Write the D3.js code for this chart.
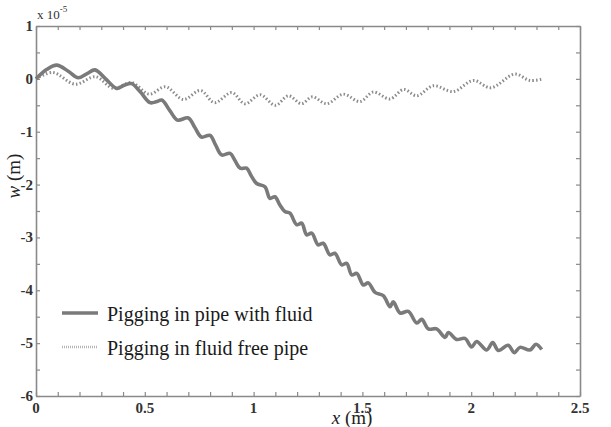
<!DOCTYPE html>
<html>
<head>
<meta charset="utf-8">
<script src="https://cdn.jsdelivr.net/npm/d3@7"></script>
<style>
  body { margin: 0; background: #fff; }
  svg text { font-family: "Liberation Serif", "Times New Roman", serif; }
</style>
</head>
<body>
<svg id="chart" width="611" height="427"></svg>
<script>
"use strict";

// data, units of 1e-5 m
const seriesNames = ["Pigging in pipe with fluid", "Pigging in fluid free pipe"];
const xTicks = [0, 0.5, 1, 1.5, 2, 2.5];
const yTicks = [1, 0, -1, -2, -3, -4, -5, -6];

const withFluid = [
    [0, 0], [0.05, 0.18], [0.095, 0.26], [0.15, 0.14], [0.194, 0.02], [0.235, 0.1], [0.271, 0.17],
    [0.32, 0.0], [0.371, -0.18], [0.405, -0.12], [0.44, -0.09], [0.48, -0.25], [0.524, -0.45],
    [0.555, -0.43], [0.578, -0.40], [0.615, -0.6], [0.65, -0.78], [0.70, -0.74], [0.73, -0.92],
    [0.76, -1.10], [0.80, -1.07], [0.825, -1.25], [0.853, -1.44], [0.892, -1.41], [0.915, -1.55],
    [0.938, -1.69], [0.968, -1.69], [0.99, -1.84], [1.014, -1.98], [1.052, -2.04], [1.075, -2.26],
    [1.098, -2.23], [1.12, -2.38], [1.144, -2.51], [1.167, -2.54], [1.198, -2.76], [1.221, -2.73],
    [1.244, -2.95], [1.267, -2.92], [1.297, -3.14], [1.320, -3.11], [1.351, -3.33], [1.374, -3.30],
    [1.405, -3.52], [1.428, -3.49], [1.451, -3.71], [1.474, -3.68], [1.504, -3.90], [1.527, -3.86],
    [1.558, -4.04], [1.596, -4.10], [1.627, -4.31], [1.642, -4.22], [1.673, -4.43], [1.711, -4.40],
    [1.750, -4.62], [1.773, -4.55], [1.803, -4.73], [1.841, -4.73], [1.880, -4.89], [1.895, -4.80],
    [1.933, -4.93], [1.971, -4.91], [2.002, -5.07], [2.025, -4.97], [2.071, -5.13], [2.099, -4.99],
    [2.125, -5.14], [2.170, -5.04], [2.198, -5.18], [2.224, -5.08], [2.270, -5.13], [2.298, -5.02],
    [2.324, -5.12]
];

const fluidFree = [
    [0, 0], [0.077, 0.12], [0.18, -0.1], [0.274, 0.04], [0.355, -0.18], [0.44, -0.07], [0.52, -0.29],
    [0.595, -0.15], [0.677, -0.39], [0.756, -0.22], [0.82, -0.45], [0.90, -0.26], [0.96, -0.47],
    [1.03, -0.30], [1.10, -0.50], [1.16, -0.32], [1.22, -0.47], [1.27, -0.34], [1.336, -0.47],
    [1.412, -0.29], [1.489, -0.43], [1.55, -0.25], [1.627, -0.38], [1.69, -0.20], [1.75, -0.32],
    [1.826, -0.13], [1.918, -0.24], [2.01, -0.03], [2.09, -0.17], [2.20, 0.09], [2.27, -0.03],
    [2.33, 0.0]
];

const svg = d3.select("#chart");
const plotLeft = 36, plotRight = 580, plotTop = 26, plotBottom = 396;
const axisColor = "#8a8a8a";

const scaleX = d3.scaleLinear().domain([0, 2.5]).range([plotLeft, plotRight]);
const scaleY = d3.scaleLinear().domain([-6, 1]).range([plotBottom, plotTop]);

// minor ticks, drawn inward on all four sides
const xMinor = d3.range(0, 26).map(i => i / 10);
const yMinor = d3.range(0, 15).map(i => -6 + i / 2);
const tick = 4;

function frameAxis(axis, transform) {
    svg.append("g")
    .attr("transform", transform)
    .call(axis)
    .call(g => g.select(".domain").attr("stroke", axisColor).attr("stroke-width", 1.6))
    .call(g => g.selectAll(".tick line").attr("stroke", axisColor).attr("stroke-width", 1.2));
}

frameAxis(d3.axisBottom(scaleX).tickValues(xMinor).tickSize(-tick).tickSizeOuter(0).tickFormat(""),
    `translate(0,${plotBottom})`);
frameAxis(d3.axisTop(scaleX).tickValues(xMinor).tickSize(-tick).tickSizeOuter(0).tickFormat(""),
    `translate(0,${plotTop})`);
frameAxis(d3.axisLeft(scaleY).tickValues(yMinor).tickSize(-tick).tickSizeOuter(0).tickFormat(""),
    `translate(${plotLeft},0)`);
frameAxis(d3.axisRight(scaleY).tickValues(yMinor).tickSize(-tick).tickSizeOuter(0).tickFormat(""),
    `translate(${plotRight},0)`);

// tick labels
svg.append("g")
.selectAll("text")
.data(xTicks)
.join("text")
.attr("x", d => scaleX(d))
.attr("y", plotBottom + 17)
.attr("text-anchor", "middle")
.attr("font-size", 15)
.attr("font-weight", "bold")
.attr("fill", "#333")
.text(d => d);

svg.append("g")
.selectAll("text")
.data(yTicks)
.join("text")
.attr("x", plotLeft - 3)
.attr("y", d => scaleY(d) + 5)
.attr("text-anchor", "end")
.attr("font-size", 15)
.attr("font-weight", "bold")
.attr("fill", "#333")
.text(d => d);

// exponent
const expo = svg.append("text")
.attr("x", plotLeft + 1)
.attr("y", 19)
.attr("font-size", 13)
.attr("fill", "#333");
expo.append("tspan").text("x 10");
expo.append("tspan").attr("dy", -7).attr("font-size", 9).text("-5");

// axis titles
const yTitle = svg.append("text")
.attr("transform", "translate(20,176) rotate(-90)")
.attr("text-anchor", "middle")
.attr("font-size", 19)
.attr("fill", "#222");
yTitle.append("tspan").attr("font-style", "italic").text("w");
yTitle.append("tspan").text(" (m)");

const xTitle = svg.append("text")
.attr("x", 352)
.attr("y", 424)
.attr("text-anchor", "middle")
.attr("font-size", 19)
.attr("fill", "#222");
xTitle.append("tspan").attr("font-style", "italic").text("x");
xTitle.append("tspan").text(" (m)");

// curves
const line = d3.line()
.x(d => scaleX(d[0]))
.y(d => scaleY(d[1]))
.curve(d3.curveCatmullRom.alpha(0.5));

svg.append("path")
.datum(fluidFree)
.attr("fill", "none")
.attr("stroke", "#8c8c8c")
.attr("stroke-width", 3)
.attr("stroke-dasharray", "1.5,2.2")
.attr("d", line);

svg.append("path")
.datum(withFluid)
.attr("fill", "none")
.attr("stroke", "#7a7a7a")
.attr("stroke-width", 3.6)
.attr("stroke-linejoin", "round")
.attr("d", line);

// legend
const legend = svg.append("g");
const legendStyles = [
    { stroke: "#7a7a7a", width: 3.6, dash: null, y: 313 },
    { stroke: "#b5b5b5", width: 2.5, dash: "1,1", y: 347 }
];
seriesNames.forEach((name, i) => {
    const s = legendStyles[i];
    legend.append("line")
    .attr("x1", 62).attr("x2", 98)
    .attr("y1", s.y).attr("y2", s.y)
    .attr("stroke", s.stroke)
    .attr("stroke-width", s.width)
    .attr("stroke-dasharray", s.dash);
    legend.append("text")
    .attr("x", 107)
    .attr("y", s.y + 8)
    .attr("font-size", 20)
    .attr("fill", "#1a1a1a")
    .text(name);
});
</script>
</body>
</html>
